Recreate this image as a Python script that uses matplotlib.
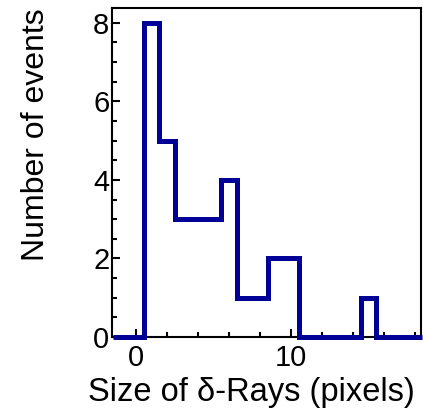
import numpy as np
import matplotlib.pyplot as plt
from matplotlib.ticker import MultipleLocator

plt.rcParams['font.family'] = ['Liberation Sans', 'DejaVu Sans']

# delta-ray cluster sizes (pixels) and how many events had each size
sizes = np.arange(-1, 19)
counts = [0, 0, 8, 5, 3, 3, 3, 4, 1, 1, 2, 2, 0, 0, 0, 0, 1, 0, 0, 0]

edges = np.append(sizes - 0.5, sizes[-1] + 0.5)

fig = plt.figure(figsize=(4.23, 4.11), dpi=100)
ax = fig.add_axes([0.265, 0.180, 0.730, 0.801])

ax.stairs(counts, edges, color='#000096', lw=3.6, baseline=None,
          zorder=3, clip_on=False)

ax.set_xlim(-1.55, 18.4)
ax.set_ylim(0, 8.38)
ax.xaxis.set_major_locator(MultipleLocator(10))
ax.xaxis.set_minor_locator(MultipleLocator(2))
ax.yaxis.set_major_locator(MultipleLocator(2))
ax.yaxis.set_minor_locator(MultipleLocator(0.5))

ax.tick_params(which='both', direction='in', width=1.5, labelsize=21,
               top=False, right=False)
ax.tick_params(which='major', length=6)
ax.tick_params(which='minor', length=3.5)
ax.tick_params(axis='y', pad=2)
ax.tick_params(axis='x', pad=5)
for s in ax.spines.values():
    s.set_linewidth(1.5)

ax.set_xlabel('Size of δ-Rays (pixels)', fontsize=23.5)
ax.set_ylabel('Number of events', fontsize=23)
ax.xaxis.set_label_coords(0.45, -0.12)
ax.yaxis.set_label_coords(-0.198, 0.615)

fig.savefig('out.png', dpi=100)
